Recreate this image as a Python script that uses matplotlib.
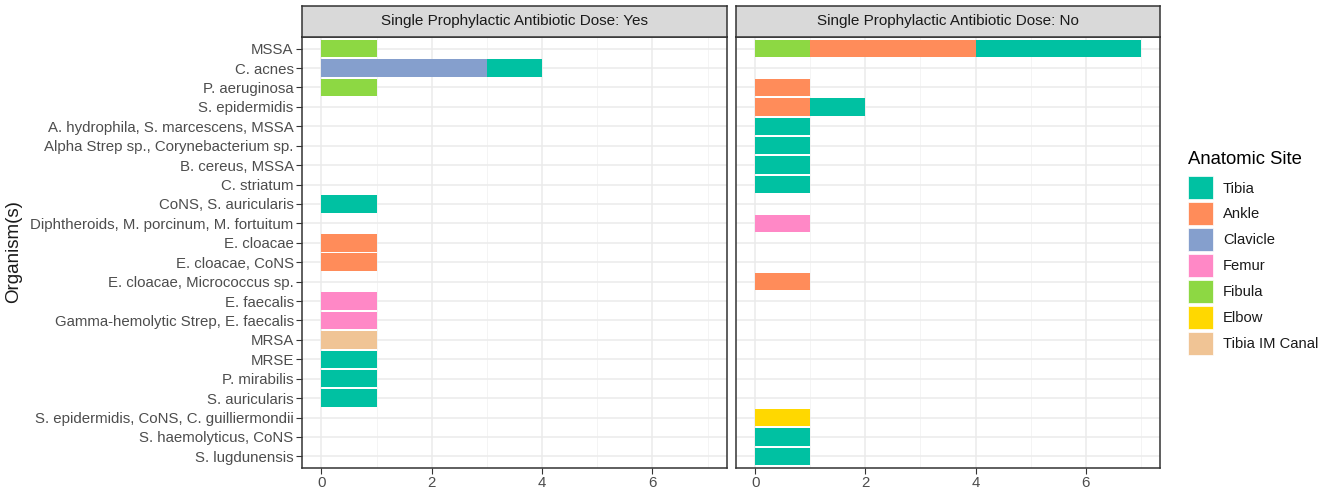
import numpy as np
import matplotlib
matplotlib.use("Agg")
import matplotlib.pyplot as plt
from matplotlib.patches import Patch

plt.rcParams['font.family'] = ['Liberation Sans', 'DejaVu Sans']

organisms = ["MSSA", "C. acnes", "P. aeruginosa", "S. epidermidis",
             "A. hydrophila, S. marcescens, MSSA",
             "Alpha Strep sp., Corynebacterium sp.", "B. cereus, MSSA",
             "C. striatum", "CoNS, S. auricularis",
             "Diphtheroids, M. porcinum, M. fortuitum", "E. cloacae",
             "E. cloacae, CoNS", "E. cloacae, Micrococcus sp.", "E. faecalis",
             "Gamma-hemolytic Strep, E. faecalis", "MRSA", "MRSE",
             "P. mirabilis", "S. auricularis",
             "S. epidermidis, CoNS, C. guilliermondii",
             "S. haemolyticus, CoNS", "S. lugdunensis"]

sites = ["Tibia", "Ankle", "Clavicle", "Femur", "Fibula", "Elbow", "Tibia IM Canal"]
site_colors = ["#00C1A2", "#FF8C5A", "#859FCD", "#FF88C6", "#8DD843", "#FFD800", "#F0C495"]

# counts per site, one value per organism (same order as organisms)
yes_counts = {
    "Tibia":          [0,1,0,0,0,0,0,0,1,0,0,0,0,0,0,0,1,1,1,0,0,0],
    "Ankle":          [0,0,0,0,0,0,0,0,0,0,1,1,0,0,0,0,0,0,0,0,0,0],
    "Clavicle":       [0,3,0,0,0,0,0,0,0,0,0,0,0,0,0,0,0,0,0,0,0,0],
    "Femur":          [0,0,0,0,0,0,0,0,0,0,0,0,0,1,1,0,0,0,0,0,0,0],
    "Fibula":         [1,0,1,0,0,0,0,0,0,0,0,0,0,0,0,0,0,0,0,0,0,0],
    "Elbow":          [0,0,0,0,0,0,0,0,0,0,0,0,0,0,0,0,0,0,0,0,0,0],
    "Tibia IM Canal": [0,0,0,0,0,0,0,0,0,0,0,0,0,0,0,1,0,0,0,0,0,0],
}
no_counts = {
    "Tibia":          [3,0,0,1,1,1,1,1,0,0,0,0,0,0,0,0,0,0,0,0,1,1],
    "Ankle":          [3,0,1,1,0,0,0,0,0,0,0,0,1,0,0,0,0,0,0,0,0,0],
    "Clavicle":       [0,0,0,0,0,0,0,0,0,0,0,0,0,0,0,0,0,0,0,0,0,0],
    "Femur":          [0,0,0,0,0,0,0,0,0,1,0,0,0,0,0,0,0,0,0,0,0,0],
    "Fibula":         [1,0,0,0,0,0,0,0,0,0,0,0,0,0,0,0,0,0,0,0,0,0],
    "Elbow":          [0,0,0,0,0,0,0,0,0,0,0,0,0,0,0,0,0,0,0,1,0,0],
    "Tibia IM Canal": [0,0,0,0,0,0,0,0,0,0,0,0,0,0,0,0,0,0,0,0,0,0],
}
panel_titles = ["Single Prophylactic Antibiotic Dose: Yes",
                "Single Prophylactic Antibiotic Dose: No"]

W, H = 1328, 495
fig = plt.figure(figsize=(W / 100, H / 100), dpi=100)

def fbox(x0, y0, x1, y1):
    # pixel box (top-left origin) -> figure fraction rect
    return [x0 / W, 1 - y1 / H, (x1 - x0) / W, (y1 - y0) / H]

panel_px = [(302, 727), (736, 1160)]
y = np.arange(len(organisms))

for i, (counts, title) in enumerate(zip([yes_counts, no_counts], panel_titles)):
    x0, x1 = panel_px[i]
    ax = fig.add_axes(fbox(x0, 37, x1, 468))
    left = np.zeros(len(organisms))
    # ggplot stacks first factor level farthest from zero
    for site, col in reversed(list(zip(sites, site_colors))):
        vals = np.array(counts[site], dtype=float)
        ax.barh(y, vals, left=left, height=0.9, color=col, linewidth=0, zorder=3)
        left += vals
    ax.set_xlim(-0.35, 7.35)
    ax.set_ylim(len(organisms) - 0.4, -0.6)
    ax.set_xticks([0, 2, 4, 6])
    ax.set_xticks([1, 3, 5, 7], minor=True)
    ax.set_yticks(y)
    ax.grid(True, which='major', color='#EBEBEB', linewidth=1.1, zorder=0)
    ax.grid(True, which='minor', axis='x', color='#F2F2F2', linewidth=0.6, zorder=0)
    ax.set_axisbelow(True)
    ax.tick_params(axis='both', which='major', labelsize=10.8, labelcolor='#4D4D4D',
                   color='#333333', length=4, width=0.8, pad=2)
    ax.tick_params(axis='x', which='minor', length=0)
    if i == 0:
        ax.set_yticklabels(organisms)
    else:
        ax.set_yticklabels([])
        ax.tick_params(axis='y', length=0)
    for s in ax.spines.values():
        s.set_color('#333333')
        s.set_linewidth(1.1)

    sax = fig.add_axes(fbox(x0, 6, x1, 37))
    sax.set_facecolor('#D9D9D9')
    sax.set_xticks([])
    sax.set_yticks([])
    for s in sax.spines.values():
        s.set_color('#333333')
        s.set_linewidth(1.1)
    sax.text(0.5, 0.5, title, ha='center', va='center', fontsize=11,
             color='#1A1A1A', transform=sax.transAxes)

fig.text(14 / W, 1 - 252 / H, "Organism(s)", rotation=90, ha='center',
         va='center', fontsize=13.5, color='#1A1A1A')

handles = [Patch(facecolor=c, edgecolor='white', linewidth=0.5) for c in site_colors]
leg = fig.legend(handles, sites, loc='upper left',
                 bbox_to_anchor=(1188 / W, 1 - 151 / H), frameon=False,
                 fontsize=10.6, title="Anatomic Site", title_fontsize=13.3,
                 handlelength=1.7, handleheight=2.03, labelspacing=0.2,
                 handletextpad=0.68, borderaxespad=0, borderpad=0)
leg._legend_box.align = "left"
leg._legend_box.sep = 6
for t in leg.get_texts():
    t.set_color('#1A1A1A')

fig.savefig("out.png", dpi=100)
